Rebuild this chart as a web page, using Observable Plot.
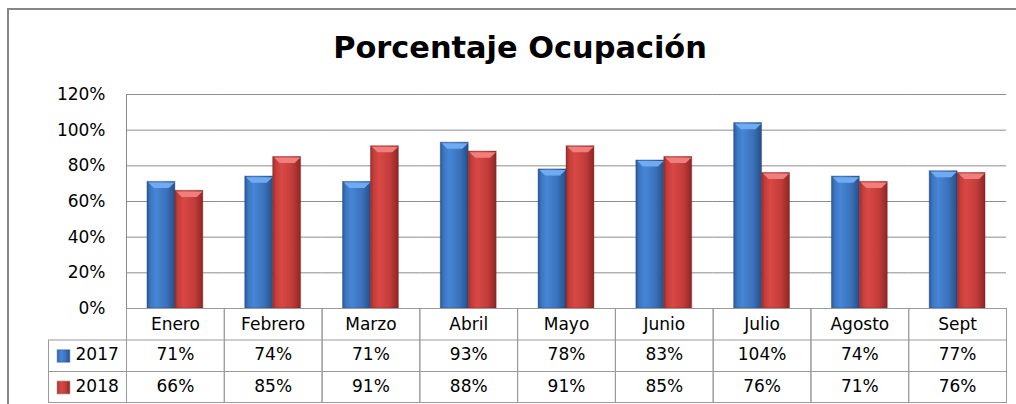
<!DOCTYPE html>
<html><head><meta charset="utf-8">
<script src="https://cdn.jsdelivr.net/npm/d3@7"></script>
<script src="https://cdn.jsdelivr.net/npm/@observablehq/plot@0.6"></script>
<style>
html,body{margin:0;padding:0;background:#fff;}
#wrap{position:relative;width:1016px;height:404px;overflow:hidden;}
#border{position:absolute;left:7px;top:8px;right:-10px;bottom:-10px;border-left:2px solid #868686;border-top:2px solid #868686;}
#title{position:absolute;left:0;top:30px;width:1040px;text-align:center;font-family:"DejaVu Sans";font-weight:bold;font-size:30.4px;line-height:36px;color:#000;}
#chart{position:absolute;left:0;top:0;}
</style></head><body>
<div id="wrap"><div id="border"></div><div id="title">Porcentaje Ocupación</div><div id="chart"></div></div>
<script>
const months = ["Enero","Febrero","Marzo","Abril","Mayo","Junio","Julio","Agosto","Sept"];
const years = ["2017","2018"];
const values2017 = [71,74,71,93,78,83,104,74,77];
const values2018 = [66,85,91,88,91,85,76,71,76];
const yTicks = [0,20,40,60,80,100,120];

const rows2017 = months.map((m,i)=>({month:m, year:"2017", value:values2017[i]}));
const rows2018 = months.map((m,i)=>({month:m, year:"2018", value:values2018[i]}));

const W=1016, H=404, mL=126, mR=10, mT=94, mB=96;
const FH = H-mT-mB;
const FW = (W-mL-mR)/months.length;
const rowH = 31.5;
const gridColor = "#8c8c8c", tableColor = "#9a9a9a";

// bevel highlight shape drawn on top of each bar
const bevel = {draw(ctx){ ctx.moveTo(-13.2,0); ctx.lineTo(13.2,0); ctx.lineTo(7.5,5.5); ctx.lineTo(-7.5,5.5); ctx.closePath(); }};

const chart = Plot.plot({
  width:W, height:H, marginLeft:mL, marginRight:mR, marginTop:mT, marginBottom:mB,
  style:{fontFamily:"DejaVu Sans", fontSize:"17px", color:"#000", background:"transparent", overflow:"visible"},
  fx:{domain:months, padding:0, round:false, axis:null},
  x:{domain:years, paddingInner:0, paddingOuter:0.75, round:false, axis:null},
  y:{domain:[0,120], axis:null},
  marks:[
    Plot.ruleY(yTicks, {stroke:gridColor}),
    Plot.barY(rows2017, {fx:"month", x:"year", y:"value", fill:"url(#g2017)", stroke:"#1d3b66", strokeOpacity:0.35}),
    Plot.barY(rows2018, {fx:"month", x:"year", y:"value", fill:"url(#g2018)", stroke:"#6a1a18", strokeOpacity:0.35}),
    Plot.dot(rows2017, {fx:"month", x:"year", y:"value", symbol:bevel, r:5, fill:"#70aaf0", stroke:"none", dy:0.6}),
    Plot.dot(rows2018, {fx:"month", x:"year", y:"value", symbol:bevel, r:5, fill:"#f07e7c", stroke:"none", dy:0.6}),
    Plot.axisY(yTicks, {tickSize:0, tickPadding:21, tickFormat:d=>d+"%", fontSize:17, label:null}),
    Plot.frame({facetAnchor:"left", anchor:"left", stroke:gridColor}),
    // data table grid
    Plot.frame({insetTop:FH, insetBottom:-(mB-2), stroke:tableColor}),
    Plot.ruleY([0], {dy:rowH, stroke:tableColor}),
    Plot.ruleY([0], {dy:2*rowH, stroke:tableColor}),
    Plot.frame({facetAnchor:"left", insetTop:FH+rowH, insetBottom:-(mB-2), insetLeft:-78, insetRight:FW, stroke:tableColor}),
    Plot.ruleY([0], {facetAnchor:"left", dy:2*rowH, insetLeft:-78, insetRight:FW, stroke:tableColor}),
    // table texts
    Plot.text(months, {fx:d=>d, y:0, dy:16, text:d=>d, fontSize:17}),
    Plot.text(rows2017, {fx:"month", y:0, dy:46.5, text:d=>d.value+"%", fontSize:17}),
    Plot.text(rows2018, {fx:"month", y:0, dy:78.5, text:d=>d.value+"%", fontSize:17}),
    Plot.text([years[0]], {facetAnchor:"left", frameAnchor:"left", y:0, dy:46.5, dx:-51, textAnchor:"start", text:d=>d, fontSize:17}),
    Plot.text([years[1]], {facetAnchor:"left", frameAnchor:"left", y:0, dy:78.5, dx:-51, textAnchor:"start", text:d=>d, fontSize:17}),
    Plot.dot([0], {facetAnchor:"left", frameAnchor:"left", y:0, dy:47.5, dx:-63, symbol:"square", r:7, fill:"url(#g2017)", stroke:"#1d3b66", strokeOpacity:0.3}),
    Plot.dot([0], {facetAnchor:"left", frameAnchor:"left", y:0, dy:79, dx:-63, symbol:"square", r:7, fill:"url(#g2018)", stroke:"#6a1a18", strokeOpacity:0.3})
  ]
});

const defs = d3.select(chart).insert("defs", ":first-child");
function grad(id, stops){
  const g = defs.append("linearGradient").attr("id", id).attr("x1","0").attr("x2","1").attr("y1","0").attr("y2","0");
  stops.forEach(([o,c])=>g.append("stop").attr("offset",o).attr("stop-color",c));
}
grad("g2017", [["0%","#2b5894"],["12%","#3b76c2"],["32%","#4686d6"],["70%","#3a71bb"],["100%","#274f88"]]);
grad("g2018", [["0%","#98302d"],["12%","#c63d3a"],["32%","#d84845"],["70%","#c23c39"],["100%","#8e2624"]]);

document.getElementById("chart").appendChild(chart);
</script>
</body></html>
